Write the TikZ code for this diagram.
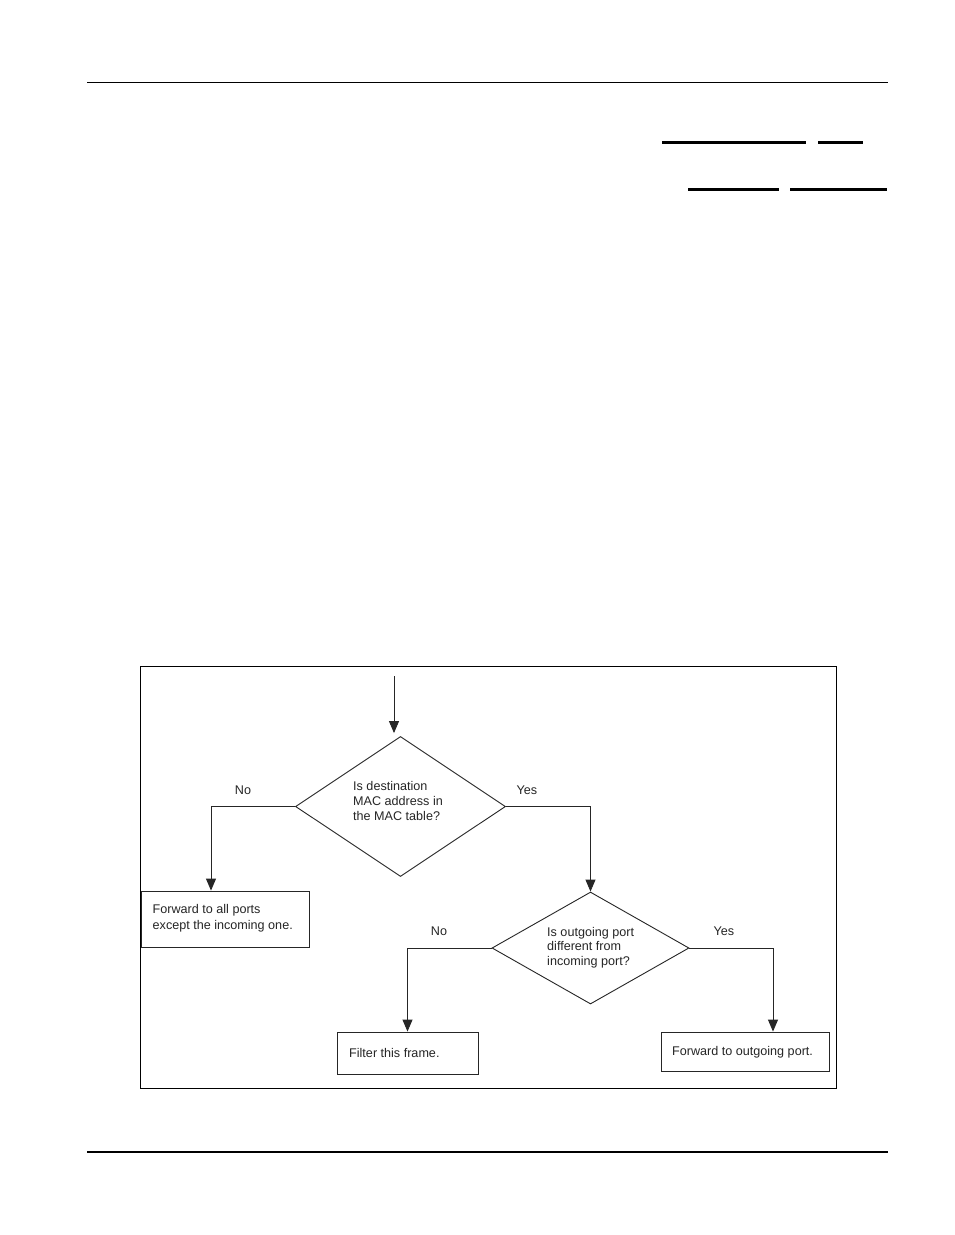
\documentclass[tikz,border=0pt]{standalone}
\usepackage{fontspec}
\setmainfont{Liberation Sans}
\usetikzlibrary{shapes.geometric,arrows.meta}
\begin{document}
\begin{tikzpicture}[x=1pt,y=-1pt,
 flow/.style={draw=black!85, line width=0.9pt},
 arr/.style={flow,-{Triangle[width=10pt,length=12pt]}},
 dec/.style={diamond, draw=black!85, line width=0.9pt, inner sep=0pt},
 boxnode/.style={rectangle, draw=black!85, line width=0.9pt, inner sep=0pt},
 txt/.style={font=\fontsize{12.6}{14.6}\selectfont, text=black!85, align=left, inner sep=0pt, anchor=west},
 lbl/.style={font=\fontsize{12.6}{14}\selectfont, text=black!85, inner sep=0pt},
 hrule/.style={line width=1.5pt},
 blank/.style={line width=3pt}]
\useasboundingbox (0,0) rectangle (954,1235);
\fill[white] (0,0) rectangle (954,1235);
% page rules
\draw[hrule] (87,82.5) -- (888,82.5);
\draw[hrule] (87,1152) -- (888,1152);
\draw[blank] (662,142) -- (806,142);
\draw[blank] (818,142) -- (863,142);
\draw[blank] (688,189) -- (779,189);
\draw[blank] (790,189) -- (887,189);
% frame
\draw[line width=1pt] (140,666) rectangle (836,1088);
% nodes
\node[dec, minimum width=210pt, minimum height=140pt] (d1) at (400.5,806.5) {};
\node[txt] (t1) at (353,801) {Is destination\\MAC address in\\the MAC table?};
\node[dec, minimum width=197pt, minimum height=112pt] (d2) at (590.5,948) {};
\node[txt] (t2) at (547,947.5) {Is outgoing port\\different from\\incoming port?};
\node[boxnode, minimum width=168pt, minimum height=56pt] (b1) at (225,919) {};
\node[txt, font=\fontsize{12.6}{16}\selectfont] (tb1) at (152.5,918.5) {Forward to all ports\\except the incoming one.};
\node[boxnode, minimum width=141pt, minimum height=42pt] (b2) at (407.5,1053) {};
\node[txt] (tb2) at (349,1053) {Filter this frame.};
\node[boxnode, minimum width=168pt, minimum height=39pt] (b3) at (745,1051.5) {};
\node[txt] (tb3) at (672,1052) {Forward to outgoing port.};
% labels
\node[lbl] (no1) at (243,790) {No};
\node[lbl] (yes1) at (527,790) {Yes};
\node[lbl] (no2) at (439,931) {No};
\node[lbl] (yes2) at (724,931) {Yes};
% connectors
\coordinate (start) at (394,676);
\draw[arr] (start) -- ([yshift=3pt]start |- d1.north);
\draw[arr] (d1.west) -| ([xshift=-14pt]b1.north);
\draw[arr] (d1.east) -| (d2.north);
\draw[arr] (d2.west) -| (b2.north);
\draw[arr] (d2.east) -| ([xshift=28pt]b3.north);
\end{tikzpicture}
\end{document}
